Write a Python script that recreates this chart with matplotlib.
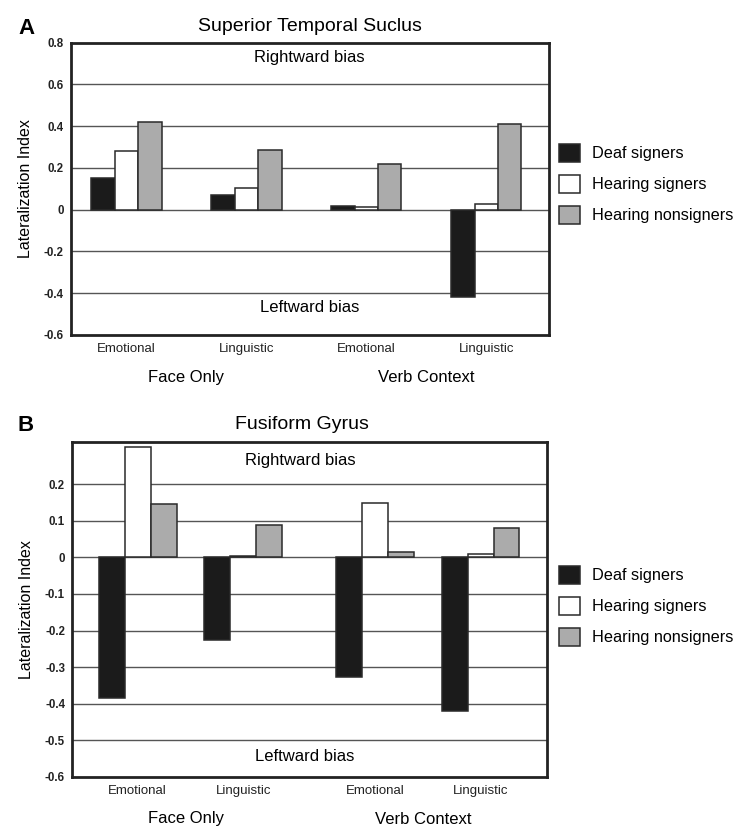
import matplotlib
matplotlib.use("Agg")
import matplotlib.pyplot as plt
from matplotlib.patches import Patch
import matplotlib.transforms as mtransforms

plt.rcParams['font.family'] = ['Liberation Sans', 'DejaVu Sans']

# ---- data ----
conditions = ["Emotional", "Linguistic", "Emotional", "Linguistic"]
contexts = ["Face Only", "Verb Context"]
groups = ["Deaf signers", "Hearing signers", "Hearing nonsigners"]

sts_deaf = [0.15, 0.07, 0.02, -0.42]
sts_hearing_signers = [0.28, 0.105, 0.015, 0.025]
sts_nonsigners = [0.42, 0.285, 0.22, 0.41]

fg_deaf = [-0.385, -0.227, -0.327, -0.42]
fg_hearing_signers = [0.303, 0.005, 0.15, 0.008]
fg_nonsigners = [0.145, 0.088, 0.014, 0.08]

sts_yticks = [0.8, 0.6, 0.4, 0.2, 0, -0.2, -0.4, -0.6]
sts_yticklabels = ["0.8", "0.6", "0.4", "0.2", "0", "-0.2", "-0.4", "-0.6"]
fg_yticks = [0.2, 0.1, 0, -0.1, -0.2, -0.3, -0.4, -0.5, -0.6]
fg_yticklabels = ["0.2", "0.1", "0", "-0.1", "-0.2", "-0.3", "-0.4", "-0.5", "-0.6"]

colors = ["#1b1b1b", "#ffffff", "#ababab"]
edge = "#2a2a2a"
gridc = "#555555"

fig = plt.figure(figsize=(7.5, 8.4), dpi=100)


def panel(ax, series, xpos, width, ylim, yticks, yticklabels, grid_ticks,
          title, letter, letter_xy, title_xy, rb_xy, lb_xy, ctx_y, ctx_shift,
          legend_y):
    for i, vals in enumerate(series):
        xs = [p + (i - 1) * width for p in xpos]
        ax.bar(xs, vals, width=width, color=colors[i], edgecolor=edge,
               linewidth=1.1, zorder=3, label=groups[i])
    for t in grid_ticks:
        ax.axhline(t, color=gridc, linewidth=1.0, zorder=1)
    ax.set_ylim(*ylim)
    ax.set_yticks(yticks)
    ax.set_yticklabels(yticklabels, fontsize=8.3, fontweight='bold', color="#222222")
    ax.set_xticks(xpos)
    ax.set_xticklabels(conditions, fontsize=9.5, color="#222222")
    ax.tick_params(axis='both', length=0)
    ax.tick_params(axis='y', pad=5)
    ax.tick_params(axis='x', pad=6)
    for s in ax.spines.values():
        s.set_linewidth(2.0)
        s.set_color("#222222")
    ax.set_ylabel("Lateralization Index", fontsize=11.5, labelpad=8)
    # bias labels
    ax.text(rb_xy[0], rb_xy[1], "Rightward bias", transform=ax.transAxes,
            ha='center', va='center', fontsize=12)
    ax.text(lb_xy[0], lb_xy[1], "Leftward bias", transform=ax.transAxes,
            ha='center', va='center', fontsize=12)
    # context labels
    trans = mtransforms.blended_transform_factory(ax.transData, fig.transFigure)
    ax.text((xpos[0] + xpos[1]) / 2 + ctx_shift, ctx_y, contexts[0], transform=trans,
            ha='center', va='center', fontsize=12)
    ax.text((xpos[2] + xpos[3]) / 2 + ctx_shift, ctx_y, contexts[1], transform=trans,
            ha='center', va='center', fontsize=12)
    fig.text(title_xy[0], title_xy[1], title, ha='center', va='center', fontsize=14)
    fig.text(letter_xy[0], letter_xy[1], letter, ha='left', va='center',
             fontsize=16, fontweight='bold')
    handles = [Patch(facecolor=colors[i], edgecolor=edge, linewidth=1.1,
                     label=groups[i]) for i in range(3)]
    fig.legend(handles=handles, loc='center left',
               bbox_to_anchor=(0.737, legend_y), frameon=False, fontsize=11.7,
               handlelength=1.25, handleheight=1.25, labelspacing=0.85,
               handletextpad=0.75, borderaxespad=0)


# ---- Panel A ----
axA = fig.add_axes([0.0943, 0.6012, 0.6373, 0.348])
axA.set_xlim(-0.465, 3.52)
panel(axA, [sts_deaf, sts_hearing_signers, sts_nonsigners], [0, 1, 2, 3], 0.195,
      (-0.6, 0.8), sts_yticks, sts_yticklabels, [0.6, 0.4, 0.2, 0, -0.2, -0.4],
      "Superior Temporal Suclus", "A", (0.025, 0.966), (0.413, 0.969),
      (0.5, 0.95), (0.5, 0.095), 1 - 378 / 840, 0.0, 1 - 184 / 840)

# ---- Panel B ----
axB = fig.add_axes([0.096, 0.0753, 0.6329, 0.3982])
axB.set_xlim(-0.623, 3.877)
panel(axB, [fg_deaf, fg_hearing_signers, fg_nonsigners], [0, 1, 2.25, 3.25], 0.246,
      (-0.6, 0.315), fg_yticks, fg_yticklabels,
      [0.2, 0.1, 0, -0.1, -0.2, -0.3, -0.4, -0.5],
      "Fusiform Gyrus", "B", (0.023, 0.494), (0.403, 0.495),
      (0.48, 0.945), (0.49, 0.06), 1 - 819 / 840, -0.045, 1 - 606 / 840)

fig.savefig("out.png", dpi=100)
